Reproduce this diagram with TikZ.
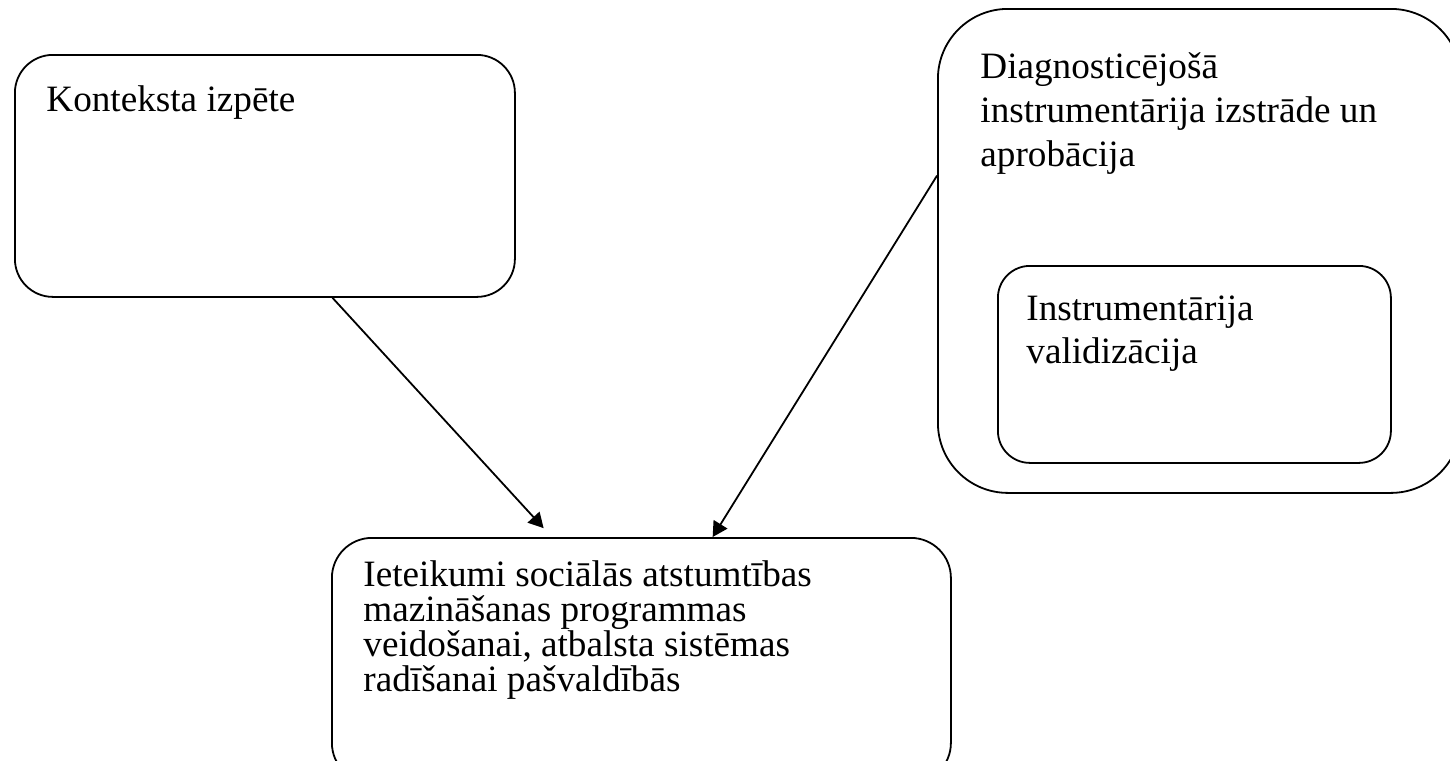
\documentclass[tikz,border=0pt]{standalone}
\usepackage{fontspec}
\setmainfont{Liberation Serif}
\usetikzlibrary{arrows.meta}

\begin{document}
\begin{tikzpicture}[x=0.5pt, y=-0.5pt,
    box/.style={draw, line width=0.9pt, rectangle, anchor=north west, inner sep=0pt},
    txt/.style={anchor=base west, inner sep=0pt, align=left, font=\fontsize{18.6}{22}\selectfont},
    arrow/.style={line width=0.9pt, -{Triangle[length=7.5pt, width=8pt]}}]
    \useasboundingbox (0,0) rectangle (1450,760);
    \node[box, rounded corners=19pt, minimum width=250pt, minimum height=121pt] (konteksts) at (14,54) {};
    \node[box, rounded corners=35pt, minimum width=261.5pt, minimum height=242pt] (diagnostika) at (937,8) {};
    \node[box, rounded corners=16pt, minimum width=196.5pt, minimum height=98.5pt] (validacija) at (997,265) {};
    \node[box, rounded corners=20pt, minimum width=309.5pt, minimum height=122.5pt] (ieteikumi) at (331,537) {};
    \node[txt] (kontekststxt) at (46,111.7) {Konteksta izpēte};
    \node[txt] (diagnostikatxt) at (980,166) {Diagnosticējošā\\instrumentārija izstrāde un\\aprobācija};
    \node[txt, font=\fontsize{18.6}{21.5}\selectfont] (validacijatxt) at (1026,363) {Instrumentārija\\validizācija};
    \node[txt, font=\fontsize{18.6}{17.5}\selectfont] (ieteikumitxt) at (363,691.5) {Ieteikumi sociālās atstumtības\\mazināšanas programmas\\veidošanai, atbalsta sistēmas\\radīšanai pašvaldībās};
    \draw[arrow, shorten >=6pt] (konteksts.299.7) -- (ieteikumi.126.2);
    \draw[arrow] (diagnostika.164) -- (ieteikumi.60.4);
\end{tikzpicture}
\end{document}
